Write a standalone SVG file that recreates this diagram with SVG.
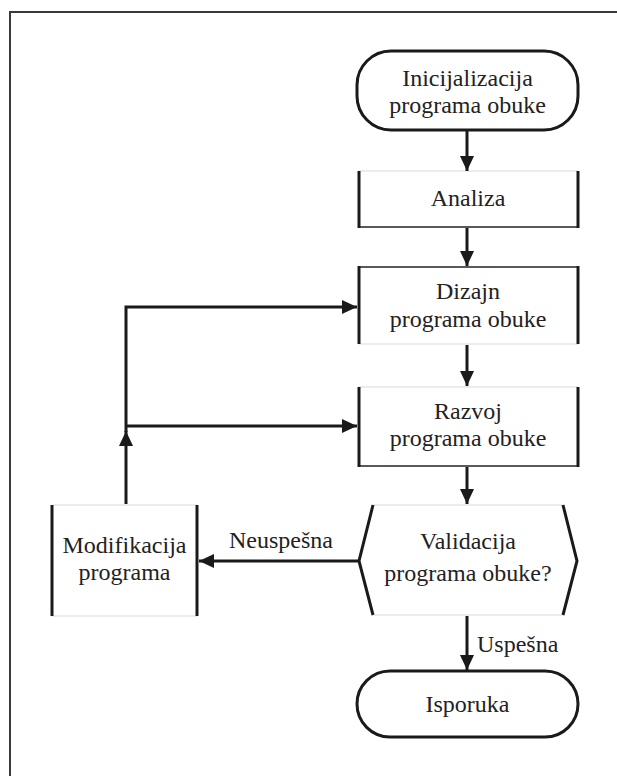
<svg xmlns="http://www.w3.org/2000/svg" width="617" height="776" viewBox="0 0 617 776">
<style>
text{font-family:"Liberation Serif","Times New Roman",serif;font-size:24px;fill:#222;text-anchor:middle}
.side{stroke:#1a1a1a;stroke-width:3;fill:none}
.thin{stroke:#222;stroke-width:1.5;fill:none}
.faint{stroke:#e6e6e6;stroke-width:1.5;fill:none}
.term{stroke:#1a1a1a;stroke-width:3;fill:#fff}
.conn{stroke:#1a1a1a;stroke-width:3;fill:none}
</style>
<defs>
<marker id="ah" markerUnits="userSpaceOnUse" markerWidth="16" markerHeight="14" refX="15" refY="7" orient="auto">
<path d="M0,0 L15,7 L0,14 z" fill="#1a1a1a"/>
</marker>
</defs>
<rect width="617" height="776" fill="#fff"/>
<path d="M10,776 L10,12 L617,12" stroke="#3a3a3a" stroke-width="2" fill="none"/>

<g id="start">
<rect x="357" y="51" width="221" height="79" rx="34" ry="34" class="term"/>
<text x="467.5" y="86">Inicijalizacija</text>
<text x="467.5" y="113">programa obuke</text>
</g>

<g id="analiza">
<line x1="359" y1="171" x2="578" y2="171" class="faint"/>
<line x1="359" y1="227" x2="578" y2="227" class="thin"/>
<line x1="359" y1="171" x2="359" y2="228" class="side"/>
<line x1="578" y1="171" x2="578" y2="228" class="side"/>
<text x="468" y="206">Analiza</text>
</g>

<g id="dizajn">
<line x1="359" y1="267" x2="578" y2="267" class="thin"/>
<line x1="359" y1="344" x2="578" y2="344" class="faint"/>
<line x1="359" y1="266" x2="359" y2="344" class="side"/>
<line x1="578" y1="266" x2="578" y2="344" class="side"/>
<text x="468" y="299">Dizajn</text>
<text x="468" y="327">programa obuke</text>
</g>

<g id="razvoj">
<line x1="359" y1="387" x2="578" y2="387" class="faint"/>
<line x1="359" y1="466" x2="578" y2="466" class="thin"/>
<line x1="359" y1="387" x2="359" y2="467" class="side"/>
<line x1="578" y1="387" x2="578" y2="467" class="side"/>
<text x="468" y="419">Razvoj</text>
<text x="468" y="446">programa obuke</text>
</g>

<g id="validacija">
<line x1="373" y1="505" x2="563" y2="505" class="faint"/>
<line x1="373" y1="615" x2="563" y2="615" class="faint"/>
<path d="M373,505 L359,561 L373,615" class="side"/>
<path d="M563,505 L577,561 L563,615" class="side"/>
<text x="468" y="549">Validacija</text>
<text x="468" y="581">programa obuke?</text>
</g>

<g id="modifikacija">
<line x1="52" y1="505" x2="197" y2="505" class="faint"/>
<line x1="52" y1="616" x2="197" y2="616" class="faint"/>
<line x1="52" y1="505" x2="52" y2="616" class="side"/>
<line x1="197" y1="505" x2="197" y2="616" class="side"/>
<text x="124.5" y="553">Modifikacija</text>
<text x="124.5" y="580">programa</text>
</g>

<g id="isporuka">
<rect x="357" y="671" width="221" height="66" rx="33" ry="33" class="term"/>
<text x="467.5" y="712">Isporuka</text>
</g>

<g id="connectors">
<line x1="467" y1="131" x2="467" y2="171" class="conn" marker-end="url(#ah)"/>
<line x1="467" y1="228" x2="467" y2="266" class="conn" marker-end="url(#ah)"/>
<line x1="467" y1="345" x2="467" y2="386" class="conn" marker-end="url(#ah)"/>
<line x1="467" y1="467" x2="467" y2="504" class="conn" marker-end="url(#ah)"/>
<line x1="467" y1="616" x2="467" y2="670" class="conn" marker-end="url(#ah)"/>
<line x1="359" y1="561" x2="199" y2="561" class="conn" marker-end="url(#ah)"/>
<line x1="126" y1="504" x2="126" y2="431" class="conn" marker-end="url(#ah)"/>
<path d="M126,432 L126,307 L357,307" class="conn" marker-end="url(#ah)"/>
<line x1="126" y1="426" x2="357" y2="426" class="conn" marker-end="url(#ah)"/>
<text x="281" y="548">Neuspešna</text>
<text x="477" y="652" style="text-anchor:start">Uspešna</text>
</g>
</svg>
